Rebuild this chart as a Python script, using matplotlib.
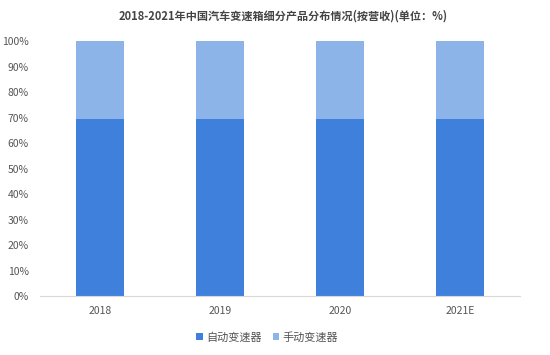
import numpy as np
import matplotlib
matplotlib.use("Agg")
import matplotlib.pyplot as plt
from matplotlib.ticker import PercentFormatter

plt.rcParams['font.family'] = ['Noto Sans CJK SC', 'DejaVu Sans']

years = ['2018', '2019', '2020', '2021E']
auto = [69.6, 69.6, 69.4, 69.3]
manual = [100 - v for v in auto]
title = '2018-2021年中国汽车变速箱细分产品分布情况(按营收)(单位：%)'

fig = plt.figure(figsize=(5.5, 3.55), dpi=100)
ax = fig.add_axes([0.0727, 0.166, 0.873, 0.718])

x = np.arange(len(years))
ax.bar(x, auto, width=0.4, color='#3f80dc', label='自动变速器')
ax.bar(x, manual, width=0.4, bottom=auto, color='#8db4e9', label='手动变速器')

ax.set_xlim(-0.5, 3.5)
ax.set_ylim(0, 100)
ax.set_yticks(np.arange(0, 101, 10))
ax.yaxis.set_major_formatter(PercentFormatter(decimals=0))
ax.set_xticks(x)
ax.set_xticklabels(years)
ax.tick_params(length=0, labelsize=7.5, colors='#555555')
ax.tick_params(axis='x', pad=7)
ax.tick_params(axis='y', pad=8)
for s in ['top', 'right', 'left']:
    ax.spines[s].set_visible(False)
ax.spines['bottom'].set_color('#d9d9d9')

fig.text(0.515, 0.955, title, ha='center', va='center', fontsize=8,
         fontweight='bold', color='#444444')
ax.legend(loc='upper center', bbox_to_anchor=(0.473, -0.1), ncol=2, frameon=False,
          fontsize=8, handlelength=0.6, handleheight=0.6, columnspacing=1.0,
          handletextpad=0.3, labelcolor='#555555')

fig.savefig('out.png', dpi=100)
